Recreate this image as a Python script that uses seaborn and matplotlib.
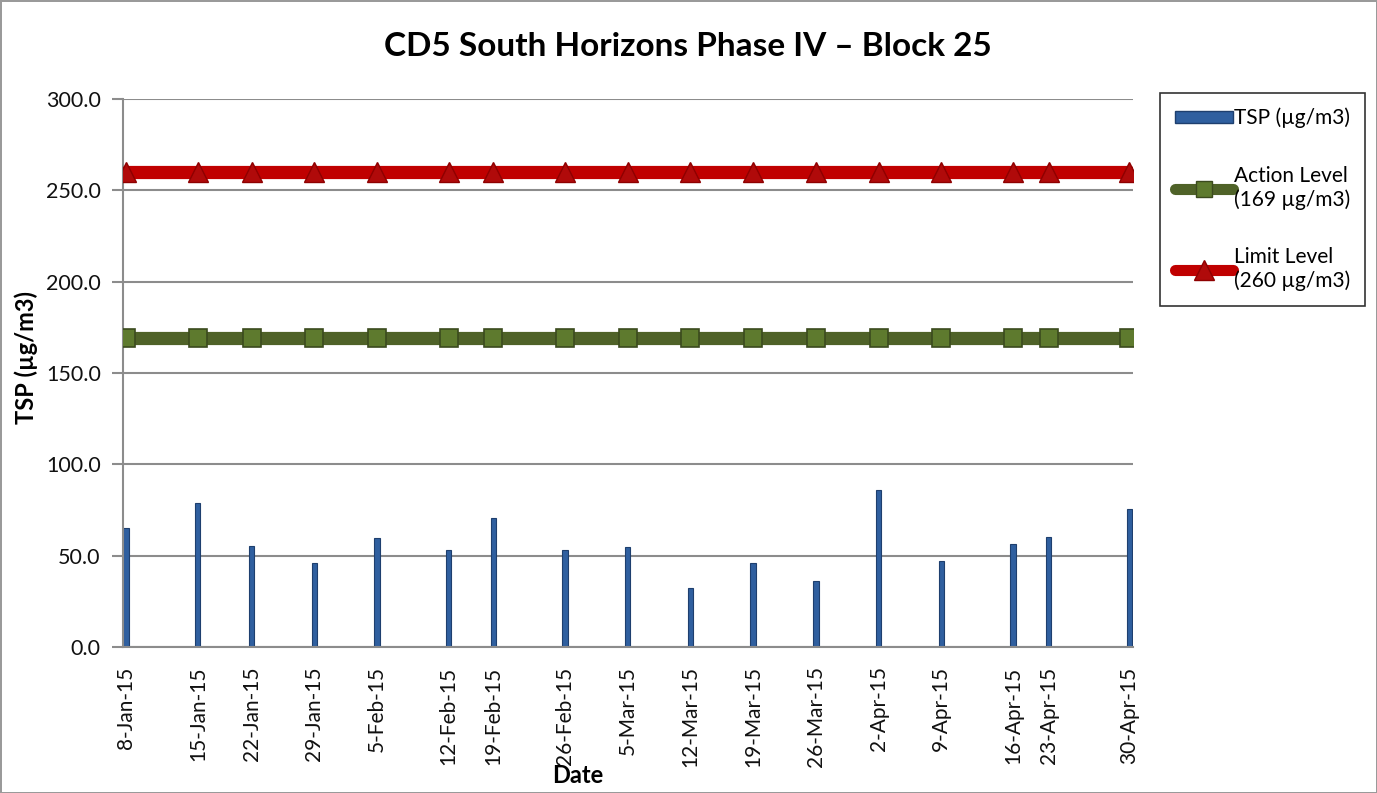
import matplotlib
matplotlib.use("Agg")
import matplotlib.pyplot as plt
import matplotlib.dates as mdates
import seaborn as sns
import pandas as pd
import numpy as np
from matplotlib.lines import Line2D
from matplotlib.patches import Patch

# ---- data ----
sample_dates = ["2015-01-08", "2015-01-16", "2015-01-22", "2015-01-29", "2015-02-05",
                "2015-02-13", "2015-02-18", "2015-02-26", "2015-03-05", "2015-03-12",
                "2015-03-19", "2015-03-26", "2015-04-02", "2015-04-09", "2015-04-17",
                "2015-04-21", "2015-04-30"]
tsp_values = [65.0, 78.7, 55.3, 45.8, 59.5, 53.3, 70.8, 52.9, 54.6, 32.5,
              45.8, 36.1, 86.1, 47.1, 56.6, 60.4, 75.5]
tick_labels = ["8-Jan-15", "15-Jan-15", "22-Jan-15", "29-Jan-15", "5-Feb-15",
               "12-Feb-15", "19-Feb-15", "26-Feb-15", "5-Mar-15", "12-Mar-15",
               "19-Mar-15", "26-Mar-15", "2-Apr-15", "9-Apr-15", "16-Apr-15",
               "23-Apr-15", "30-Apr-15"]
action_level = 169
limit_level = 260
y_ticks = [0, 50, 100, 150, 200, 250, 300]

xnum = mdates.date2num(pd.to_datetime(sample_dates))
df = pd.DataFrame({"x": xnum, "tsp": tsp_values,
                   "action": [action_level] * len(xnum),
                   "limit": [limit_level] * len(xnum)})

sns.set_theme(style="white")
plt.rcParams["font.family"] = ["Lato", "DejaVu Sans"]

fig = plt.figure(figsize=(13.77, 7.93), dpi=100, facecolor="white",
                 edgecolor="#9a9a9a", linewidth=2)
ax = fig.add_axes([123 / 1377, 1 - 647 / 793, (1133 - 123) / 1377, (647 - 99) / 793])

# gridlines
for yv in y_ticks:
    ax.axhline(yv, color="#8c8c8c", lw=1.5, zorder=0)

sns.barplot(data=df, x="x", y="tsp", native_scale=True, width=0.15,
            color="#2F5F9F", edgecolor="#1E3F6E", linewidth=0.8,
            saturation=1, ax=ax, zorder=2)

sns.lineplot(data=df, x="x", y="action", color="#4F6228", lw=9.5,
             marker="s", markersize=12.5, markerfacecolor="#5E7A2E",
             markeredgecolor="#3B4A1E", markeredgewidth=1.2, ax=ax, zorder=3)
sns.lineplot(data=df, x="x", y="limit", color="#C00000", lw=9.5,
             marker="^", markersize=14.5, markerfacecolor="#B00A0A",
             markeredgecolor="#8E0000", markeredgewidth=1.0, ax=ax, zorder=3)

ax.set_xlim(xnum[0] - 0.35, xnum[-1] + 0.4)
ax.set_ylim(0, 300)
ax.set_yticks(y_ticks)
ax.set_yticklabels([f"{v:.1f}" for v in y_ticks], fontsize=15.5, color="#111111")
ax.set_xticks(xnum)
ax.set_xticklabels(tick_labels, rotation=90, fontsize=15, color="#111111")
ax.tick_params(axis="y", length=8, width=1.5, color="#8c8c8c", direction="out", pad=8, left=True)
ax.tick_params(axis="x", length=0, pad=14)

for s in ["top", "right"]:
    ax.spines[s].set_visible(False)
ax.spines["left"].set_color("#8c8c8c")
ax.spines["left"].set_linewidth(1.5)
ax.spines["bottom"].set_color("#8c8c8c")
ax.spines["bottom"].set_linewidth(1.5)

ax.set_xlabel("Date", fontsize=17, fontweight="bold", color="black")
ax.xaxis.set_label_coords((578 - 123) / 1010, (647 - 764) / 548)
ax.set_ylabel("TSP (µg/m3)", fontsize=17, fontweight="bold", color="black")
ax.yaxis.set_label_coords((38 - 123) / 1010, (647 - 357) / 548)
fig.text(688 / 1377, 1 - 47 / 793, "CD5 South Horizons Phase IV – Block 25",
         ha="center", va="center", fontsize=24, fontweight="bold", color="black")

handles = [Patch(facecolor="#2F5F9F", edgecolor="#1E3F6E"),
           Line2D([], [], color="#4F6228", lw=8, marker="s", markersize=12,
                  markerfacecolor="#5E7A2E", markeredgecolor="#3B4A1E"),
           Line2D([], [], color="#C00000", lw=8, marker="^", markersize=14,
                  markerfacecolor="#B00A0A", markeredgecolor="#8E0000")]
labels = ["TSP (µg/m3)", "Action Level\n(169 µg/m3)", "Limit Level\n(260 µg/m3)"]
leg = fig.legend(handles, labels, loc="upper left",
                 bbox_to_anchor=(1160 / 1377, 1 - 93 / 793),
                 fontsize=15, frameon=True, fancybox=False, edgecolor="black",
                 handlelength=2.8, handleheight=0.5, handletextpad=0.05,
                 labelspacing=1.8, borderpad=0.7, borderaxespad=0)
leg.get_frame().set_linewidth(1.2)
for t in leg.get_texts():
    t.set_color("black")

fig.savefig("out.png", dpi=100, facecolor="white", edgecolor=fig.get_edgecolor())
